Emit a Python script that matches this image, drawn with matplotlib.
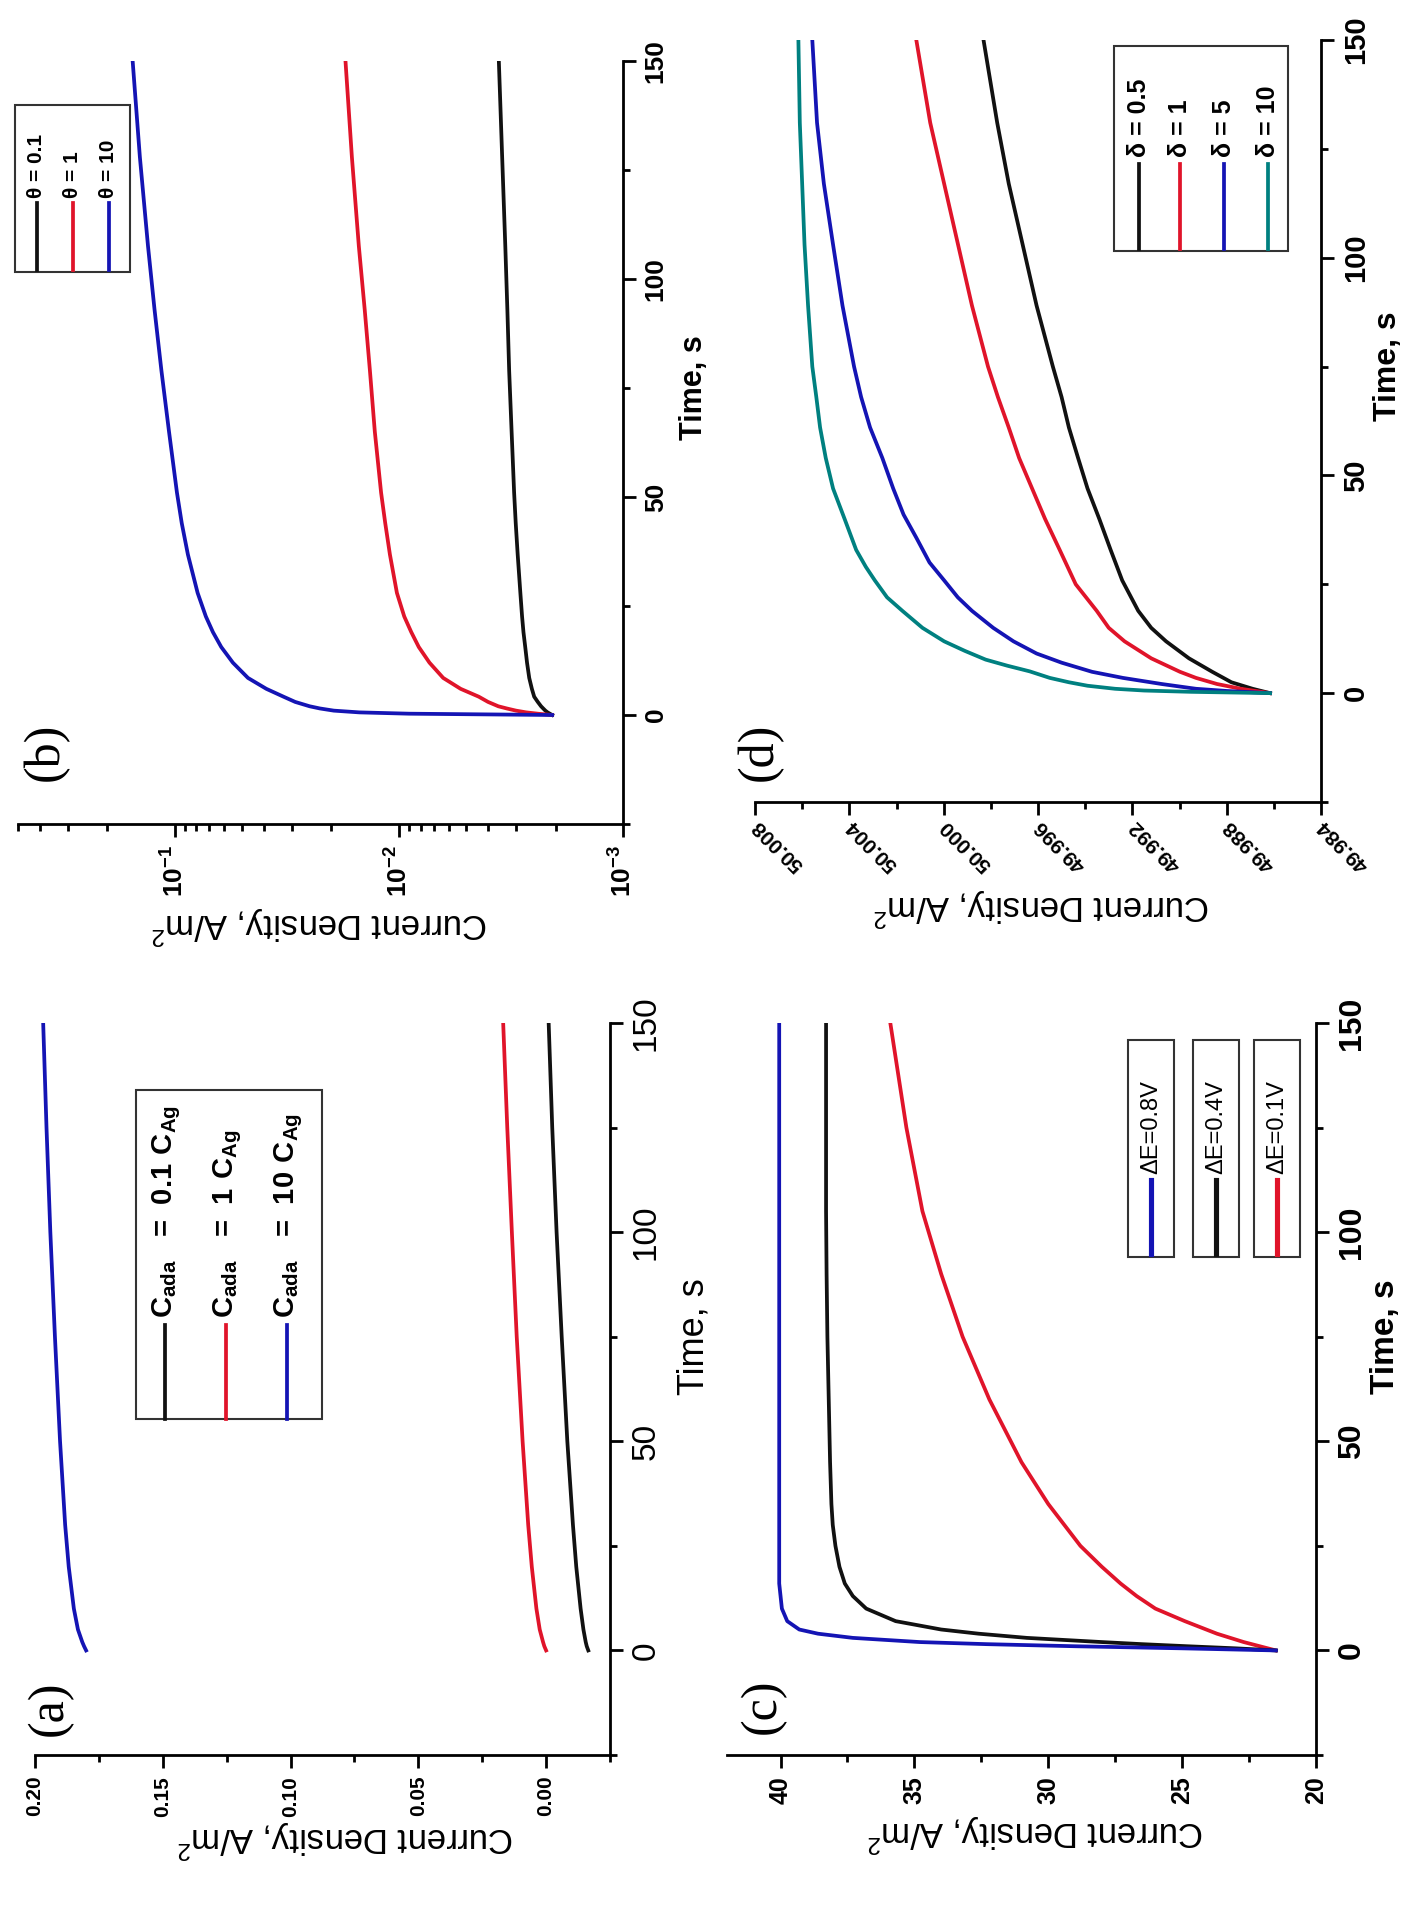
import numpy as np
import matplotlib
matplotlib.use("Agg")
import matplotlib.pyplot as plt
from matplotlib.ticker import MultipleLocator, NullFormatter, LogLocator
from matplotlib.lines import Line2D
from matplotlib.patches import Rectangle

plt.rcParams['font.family'] = ['Liberation Sans', 'DejaVu Sans']
plt.rcParams['mathtext.fontset'] = 'custom'
plt.rcParams['mathtext.rm'] = 'Liberation Sans'
plt.rcParams['mathtext.bf'] = 'Liberation Sans:bold'

W, H = 1421, 1910

# ---------- data (a): linear current density vs time ----------
t_a = [0, 1, 2, 5, 10, 20, 30, 50, 75, 100, 125, 150]
a_black = [-0.0165, -0.0159, -0.0155, -0.0146, -0.0135, -0.0118, -0.0105, -0.0083, -0.0061, -0.0041, -0.0024, -0.0010]
a_red = [0.000, 0.0007, 0.0012, 0.0025, 0.0038, 0.0056, 0.0070, 0.0092, 0.0115, 0.0134, 0.0152, 0.0168]
a_blue = [0.180, 0.1808, 0.1815, 0.1832, 0.1848, 0.1868, 0.1882, 0.1902, 0.1922, 0.1940, 0.1955, 0.1968]
a_labels = ['0.1', '1', '10']

# ---------- data (b): log current density vs time ----------
t_b = [0, 0.3, 0.6, 1, 1.5, 2, 3, 4.2, 6, 8.5, 12, 15.6, 19, 22.6, 28, 36.8, 44, 51, 65, 79, 93, 107.5, 128, 150]
b_blue = [0.00207, 0.009, 0.0150, 0.0195, 0.0225, 0.0250, 0.0290, 0.0327, 0.0390, 0.0471, 0.0550, 0.0620,
          0.0675, 0.0726, 0.0790, 0.0873, 0.0930, 0.0977, 0.1060, 0.1146, 0.1230, 0.1315, 0.1430, 0.1540]
b_red = [0.00207, 0.0024, 0.0027, 0.0030, 0.0033, 0.0036, 0.0040, 0.0044, 0.0053, 0.00634, 0.0073, 0.00815,
         0.0088, 0.00946, 0.0102, 0.01096, 0.0115, 0.0120, 0.0128, 0.01346, 0.0142, 0.01508, 0.0162, 0.0173]
b_black = [0.00207, 0.00212, 0.00217, 0.00222, 0.00227, 0.00232, 0.00240, 0.00249, 0.00255, 0.00262, 0.00268, 0.00273,
           0.00278, 0.00282, 0.00287, 0.00295, 0.00301, 0.00306, 0.00314, 0.00322, 0.00328, 0.00335, 0.00346, 0.00358]
b_labels = ['\u03b8 = 0.1', '\u03b8 = 1', '\u03b8 = 10']

# ---------- data (c): potential step ----------
t_c = [0, 0.5, 1, 1.5, 2, 3, 4, 5, 7, 10, 13, 16, 20, 25, 30, 35, 45, 60, 75, 90, 105, 125, 150]
c_blue = [21.5, 25.0, 29.0, 32.3, 34.8, 37.3, 38.6, 39.3, 39.75, 39.95, 40.0, 40.05, 40.05, 40.05, 40.05, 40.05,
          40.05, 40.05, 40.05, 40.05, 40.05, 40.05, 40.05]
c_black = [21.5, 23.0, 24.8, 26.5, 28.0, 30.8, 32.6, 34.0, 35.7, 36.8, 37.3, 37.6, 37.8, 37.95, 38.05, 38.1,
           38.15, 38.2, 38.25, 38.28, 38.3, 38.3, 38.3]
c_red = [21.5, 21.8, 22.1, 22.4, 22.7, 23.2, 23.7, 24.1, 24.9, 26.0, 26.7, 27.3, 28.0, 28.8, 29.4, 30.0,
         31.0, 32.2, 33.2, 34.0, 34.7, 35.3, 35.9]
c_labels = ['\u0394E=0.8V', '\u0394E=0.4V', '\u0394E=0.1V']

# ---------- data (d): delta series ----------
t_d_teal = [0, 0.3, 0.6, 1, 1.7, 2.5, 3.5, 5, 6.3, 7.7, 9.7, 11.9, 15, 18.9, 22, 25.9, 29, 32.9, 40, 47,
            54, 61, 68, 75, 89, 103, 117, 131, 150]
d_teal = [49.98616, 49.9895, 49.9915, 49.99273, 49.9939, 49.99469, 49.9955, 49.99635, 49.9973, 49.99822,
          49.9991, 49.99998, 50.0009, 50.00175, 50.0024, 50.00292, 50.0033, 50.00371, 50.0042, 50.00469,
          50.0050, 50.00524, 50.0054, 50.00557, 50.00575, 50.00590, 50.0060, 50.00610, 50.00616]
t_d_blue = [0, 0.5, 1, 2.1, 3.5, 4.9, 7, 9.1, 11.9, 15, 18.9, 22, 25.9, 30, 35.7, 41, 47, 54, 61, 68, 75,
            89, 103, 117, 131, 150]
d_blue = [49.98616, 49.9880, 49.9893, 49.99076, 49.9924, 49.99371, 49.9950, 49.99606, 49.99704, 49.9979,
          49.99880, 49.9994, 49.99998, 50.0006, 50.00116, 50.0017, 50.00214, 50.0026, 50.00312, 50.0035,
          50.00380, 50.00429, 50.00469, 50.00508, 50.00537, 50.00557]
t_d_red = [0, 1, 2.1, 3.5, 4.9, 8, 11.9, 15, 18.9, 25, 32.9, 40, 47, 54, 61, 68, 75, 89, 103, 117, 131, 150]
d_red = [49.98616, 49.9874, 49.98841, 49.9893, 49.98998, 49.9912, 49.99233, 49.9930, 49.99351, 49.9944,
         49.99508, 49.9957, 49.99625, 49.9968, 49.99724, 49.9977, 49.99812, 49.99880, 49.99939, 49.99998,
         50.00057, 50.00116]
t_d_black = [0, 1, 2.5, 4.9, 8, 11.9, 15, 18.9, 25.9, 32.9, 40, 47, 54, 61, 68, 75, 89, 103, 117, 131, 150]
d_black = [49.98616, 49.9869, 49.9878, 49.98861, 49.9896, 49.99057, 49.9912, 49.99175, 49.99243, 49.99292,
           49.9934, 49.99390, 49.9943, 49.99469, 49.9950, 49.99537, 49.99606, 49.99665, 49.99724, 49.99773,
           49.99831]
d_labels = ['\u03b4 = 0.5', '\u03b4 = 1', '\u03b4 = 5', '\u03b4 = 10']

BLACK, RED, BLUE, TEAL = '#111111', '#e0142a', '#1414b4', '#008080'
LW = 2.7


def fig_box(x0, y0, x1, y1):
    # pixel box (top-left origin) -> figure fraction rect
    return [x0 / W, 1 - y1 / H, (x1 - x0) / W, (y1 - y0) / H]


def fx(x):
    return x / W


def fy(y):
    return 1 - y / H


def setup(ax, tick_fs, tick_bold, time_fs, time_bold, time_tick_fs, time_tick_bold, tx, ylab_xy):
    ax.set_ylim(-25, 150)
    ax.spines['top'].set_visible(False)
    ax.spines['left'].set_visible(False)
    for s in ['bottom', 'right']:
        ax.spines[s].set_linewidth(2.0)
    ax.yaxis.tick_right()
    ax.set_yticks([0, 50, 100, 150])
    ax.yaxis.set_minor_locator(MultipleLocator(25))
    ax.tick_params(which='major', direction='out', length=9, width=2)
    ax.tick_params(which='minor', direction='out', length=5, width=2)
    ax.tick_params(axis='y', labelrotation=90, pad=6)
    ax.tick_params(axis='x', labelrotation=90, pad=6)
    for lbl in ax.get_yticklabels():
        lbl.set_fontsize(time_tick_fs)
        lbl.set_fontweight('bold' if time_tick_bold else 'normal')
        lbl.set_va('center')
    for lbl in ax.get_xticklabels():
        lbl.set_fontsize(tick_fs)
        lbl.set_fontweight('bold' if tick_bold else 'normal')
    ax.text(tx, 100 / 175, 'Time, s', transform=ax.transAxes, rotation=90,
            ha='center', va='center', fontsize=time_fs,
            fontweight='bold' if time_bold else 'normal')
    fig.text(fx(ylab_xy[0]), fy(ylab_xy[1]), 'Current Density, A/m$^2$', rotation=180,
             ha='center', va='center', fontsize=25)
    ax.patch.set_alpha(0)


fig = plt.figure(figsize=(W / 100, H / 100), dpi=100)

# ---------- panel (b) ----------
axb = fig.add_axes(fig_box(18, 61, 623, 824))
axb.plot(b_black, t_b, color=BLACK, lw=LW)
axb.plot(b_red, t_b, color=RED, lw=LW)
axb.plot(b_blue, t_b, color=BLUE, lw=LW)
axb.set_xscale('log')
axb.set_xlim(0.5, 1e-3)
axb.set_xticks([1e-3, 1e-2, 1e-1])
axb.set_xticklabels([r'$\mathbf{10^{-3}}$', r'$\mathbf{10^{-2}}$', r'$\mathbf{10^{-1}}$'])
axb.xaxis.set_minor_locator(LogLocator(base=10, subs=np.arange(2, 10)))
axb.xaxis.set_minor_formatter(NullFormatter())
setup(axb, 19, True, 22, True, 19, True, 1.117, (319, 925))

# ---------- panel (d) ----------
axd = fig.add_axes(fig_box(755, 40, 1321, 802))
axd.plot(d_black, t_d_black, color=BLACK, lw=LW)
axd.plot(d_red, t_d_red, color=RED, lw=LW)
axd.plot(d_blue, t_d_blue, color=BLUE, lw=LW)
axd.plot(d_teal, t_d_teal, color=TEAL, lw=LW)
axd.set_xlim(50.008, 49.984)
d_ticks = np.round(np.arange(49.984, 50.0081, 0.004), 3)
axd.set_xticks(d_ticks)
axd.set_xticklabels(['%.3f' % v for v in d_ticks])
axd.xaxis.set_minor_locator(MultipleLocator(0.002))
setup(axd, 15, True, 23, True, 21, True, 1.118, (1041, 907))
for lbl in axd.get_xticklabels():
    lbl.set_rotation(135)
    lbl.set_rotation_mode('anchor')
    lbl.set_ha('right')
    lbl.set_va('center')

# ---------- panel (a) ----------
axa = fig.add_axes(fig_box(35, 1023, 610, 1755))
axa.plot(a_black, t_a, color=BLACK, lw=LW)
axa.plot(a_red, t_a, color=RED, lw=LW)
axa.plot(a_blue, t_a, color=BLUE, lw=LW)
axa.set_xlim(0.20, -0.025)
axa.set_xticks([0.0, 0.05, 0.10, 0.15, 0.20])
axa.set_xticklabels(['0.00', '0.05', '0.10', '0.15', '0.20'])
axa.xaxis.set_minor_locator(MultipleLocator(0.025))
setup(axa, 15, True, 26, False, 24, False, 1.146, (345, 1839))

# ---------- panel (c) ----------
axc = fig.add_axes(fig_box(727, 1023, 1316, 1755))
axc.plot(c_red, t_c, color=RED, lw=LW)
axc.plot(c_black, t_c, color=BLACK, lw=LW)
axc.plot(c_blue, t_c, color=BLUE, lw=LW)
axc.set_xlim(42, 20)
axc.set_xticks([20, 25, 30, 35, 40])
axc.xaxis.set_minor_locator(MultipleLocator(2.5))
setup(axc, 18, True, 24, True, 23, True, 1.118, (1035, 1833))
for lbl in axc.get_xticklabels():
    lbl.set_family(['Liberation Sans Narrow', 'Liberation Sans'])

# ---------- panel letters ----------
for txt, (x, y) in zip(['(a)', '(b)', '(c)', '(d)'],
                       [(50, 1708), (46, 752), (763, 1706), (760, 752)]):
    fig.text(fx(x), fy(y), txt, rotation=90, ha='center', va='center',
             fontsize=36, family='Liberation Serif')

# ---------- legend (a) ----------
fig.patches.append(Rectangle((fx(136), fy(1419)), fx(322) - fx(136), fy(1090) - fy(1419),
                             transform=fig.transFigure, fill=False, lw=1.5, ec='#333333'))
for xc, col, lab in zip([165, 226, 287], [BLACK, RED, BLUE], a_labels):
    fig.add_artist(Line2D([fx(xc), fx(xc)], [fy(1419), fy(1325)], color=col, lw=LW,
                          transform=fig.transFigure))
    fig.text(fx(xc + 2), fy(1318), r'$\mathbf{C_{ada}\ \ =\ ' + lab + r'\ C_{Ag}}$',
             rotation=90, ha='center', va='bottom', fontsize=21)

# ---------- legend (b) ----------
fig.patches.append(Rectangle((fx(15), fy(272)), fx(130) - fx(15), fy(105) - fy(272),
                             transform=fig.transFigure, fill=False, lw=1.5, ec='#333333'))
for xc, col, lab in zip([37, 73, 109], [BLACK, RED, BLUE], b_labels):
    fig.add_artist(Line2D([fx(xc), fx(xc)], [fy(270), fy(203)], color=col, lw=LW,
                          transform=fig.transFigure))
    fig.text(fx(xc), fy(198), lab, rotation=90, ha='center', va='bottom',
             fontsize=15, fontweight='bold')

# ---------- legend (d) ----------
fig.patches.append(Rectangle((fx(1114), fy(251)), fx(1288) - fx(1114), fy(46) - fy(251),
                             transform=fig.transFigure, fill=False, lw=1.5, ec='#333333'))
for xc, col, lab in zip([1139, 1180, 1224, 1268], [BLACK, RED, BLUE, TEAL], d_labels):
    fig.add_artist(Line2D([fx(xc), fx(xc)], [fy(249), fy(164)], color=col, lw=LW,
                          transform=fig.transFigure))
    fig.text(fx(xc), fy(157), lab, rotation=90, ha='center', va='bottom',
             fontsize=18, fontweight='bold')

# ---------- legends (c) ----------
for x0, col, lab in zip([1128, 1193, 1254], [BLUE, BLACK, RED], c_labels):
    fig.patches.append(Rectangle((fx(x0), fy(1257)), fx(x0 + 46) - fx(x0), fy(1040) - fy(1257),
                                 transform=fig.transFigure, fill=False, lw=1.5, ec='#333333'))
    fig.add_artist(Line2D([fx(x0 + 23), fx(x0 + 23)], [fy(1254), fy(1180)], color=col, lw=LW + 1,
                          transform=fig.transFigure))
    fig.text(fx(x0 + 23), fy(1174), lab, rotation=90, ha='center', va='bottom', fontsize=17)

fig.savefig('out.png', dpi=100)
